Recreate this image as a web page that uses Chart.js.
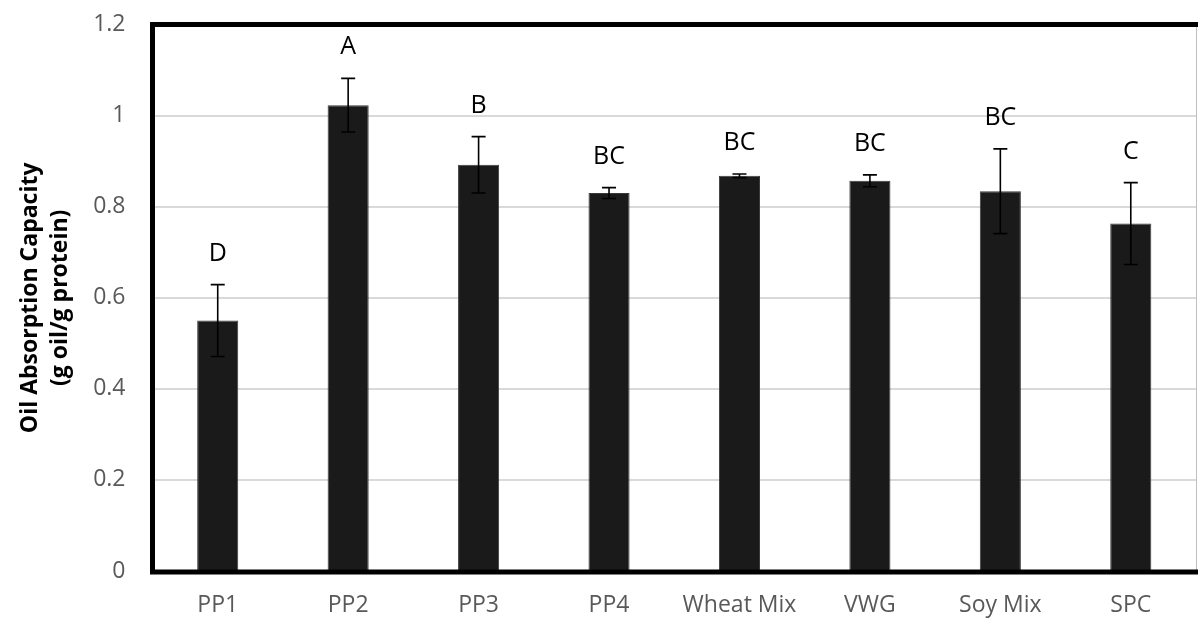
<!DOCTYPE html>
<html>
<head>
<meta charset="utf-8">
<title>Oil Absorption Capacity</title>
<script src="https://cdn.jsdelivr.net/npm/chart.js@4/dist/chart.umd.min.js"></script>
<style>
  html, body { margin: 0; padding: 0; background: #ffffff; }
  #wrap { width: 1198px; height: 619px; }
</style>
</head>
<body>
<div id="wrap"><canvas id="chart" width="1198" height="619"></canvas></div>
<script>
// Protein sources and their mean oil absorption capacity (g oil / g protein)
const categories = ['PP1', 'PP2', 'PP3', 'PP4', 'Wheat Mix', 'VWG', 'Soy Mix', 'SPC'];
const oilAbsorption = [0.550, 1.023, 0.892, 0.830, 0.868, 0.857, 0.834, 0.763];
const stdDev = [0.079, 0.059, 0.062, 0.012, 0.004, 0.013, 0.093, 0.090];
const groupLetters = ['D', 'A', 'B', 'BC', 'BC', 'BC', 'BC', 'C'];
const yTickValues = [0, 0.2, 0.4, 0.6, 0.8, 1.0, 1.2];
const yTitleLines = ['Oil Absorption Capacity', '(g oil/g protein)'];

const FONT = '"Open Sans", "Liberation Sans", sans-serif';

// Error bars and significance letters above each bar
const errorBarPlugin = {
  id: 'errorBars',
  afterDatasetsDraw(chart) {
    const ctx = chart.ctx;
    const y = chart.scales.y;
    const meta = chart.getDatasetMeta(0);
    ctx.save();
    ctx.strokeStyle = '#000000';
    ctx.lineWidth = 1.6;
    meta.data.forEach((bar, i) => {
      const v = oilAbsorption[i];
      const sd = stdDev[i];
      const yTop = y.getPixelForValue(v + sd);
      const yBot = y.getPixelForValue(v - sd);
      const cap = 7;
      ctx.beginPath();
      ctx.moveTo(bar.x, yTop); ctx.lineTo(bar.x, yBot);
      ctx.moveTo(bar.x - cap, yTop); ctx.lineTo(bar.x + cap, yTop);
      ctx.moveTo(bar.x - cap, yBot); ctx.lineTo(bar.x + cap, yBot);
      ctx.stroke();

      ctx.fillStyle = '#000000';
      ctx.font = '25px ' + FONT;
      ctx.textAlign = 'center';
      ctx.textBaseline = 'middle';
      ctx.fillText(groupLetters[i], bar.x, yTop - 31);
    });
    ctx.restore();
  }
};

// Heavy frame on the left, top and bottom; thin grey edge on the right
const framePlugin = {
  id: 'frame',
  afterDatasetsDraw(chart) {
    const { ctx, chartArea: a } = chart;
    ctx.save();
    ctx.strokeStyle = '#bfbfbf';
    ctx.lineWidth = 1;
    ctx.beginPath();
    ctx.moveTo(a.right + 0.5, a.top);
    ctx.lineTo(a.right + 0.5, a.bottom);
    ctx.stroke();

    ctx.strokeStyle = '#000000';
    ctx.lineWidth = 5;
    ctx.lineCap = 'square';
    ctx.beginPath();
    ctx.moveTo(chart.width + 5, a.top);
    ctx.lineTo(a.left, a.top);
    ctx.lineTo(a.left, a.bottom + 1);
    ctx.lineTo(chart.width + 5, a.bottom + 1);
    ctx.stroke();
    ctx.restore();
  }
};

// Two-line rotated y-axis title
const yTitlePlugin = {
  id: 'yTitle',
  afterDraw(chart) {
    const ctx = chart.ctx;
    const a = chart.chartArea;
    const cy = (a.top + a.bottom) / 2;
    ctx.save();
    ctx.fillStyle = '#000000';
    ctx.font = 'bold 23px ' + FONT;
    ctx.textAlign = 'center';
    ctx.textBaseline = 'middle';
    const xs = [30, 60];
    yTitleLines.forEach((line, i) => {
      ctx.save();
      ctx.translate(xs[i], cy);
      ctx.rotate(-Math.PI / 2);
      ctx.fillText(line, 0, 0);
      ctx.restore();
    });
    ctx.restore();
  }
};

new Chart(document.getElementById('chart'), {
  type: 'bar',
  data: {
    labels: categories,
    datasets: [{
      data: oilAbsorption,
      backgroundColor: '#1a1a1a',
      borderColor: '#3a3a3a',
      borderWidth: 1,
      barPercentage: 1.0,
      categoryPercentage: 0.315
    }]
  },
  options: {
    responsive: false,
    animation: false,
    events: [],
    layout: { padding: { top: 24.6, right: 2, bottom: 0, left: 0 } },
    plugins: {
      legend: { display: false },
      tooltip: { enabled: false },
      title: { display: false }
    },
    scales: {
      x: {
        grid: { display: false, drawTicks: false },
        border: { display: false },
        ticks: {
          color: '#595959',
          font: { family: FONT, size: 23 },
          padding: 21,
          maxRotation: 0,
          autoSkip: false
        },
        afterFit(scale) {
          scale.height = 48;
          scale.paddingLeft = 0;
          scale.paddingRight = 0;
        }
      },
      y: {
        min: 0,
        max: 1.2,
        afterBuildTicks(scale) {
          scale.ticks = yTickValues.map(v => ({ value: v }));
        },
        grid: { color: '#d9d9d9', lineWidth: 2, drawTicks: false },
        border: { display: false },
        ticks: {
          color: '#595959',
          font: { family: FONT, size: 23 },
          padding: 27,
          callback: (v) => String(Math.round(v * 10) / 10)
        },
        afterFit(scale) {
          scale.width = 152.5;
          scale.paddingTop = 0;
          scale.paddingBottom = 0;
        }
      }
    }
  },
  plugins: [errorBarPlugin, framePlugin, yTitlePlugin]
});
</script>
</body>
</html>
